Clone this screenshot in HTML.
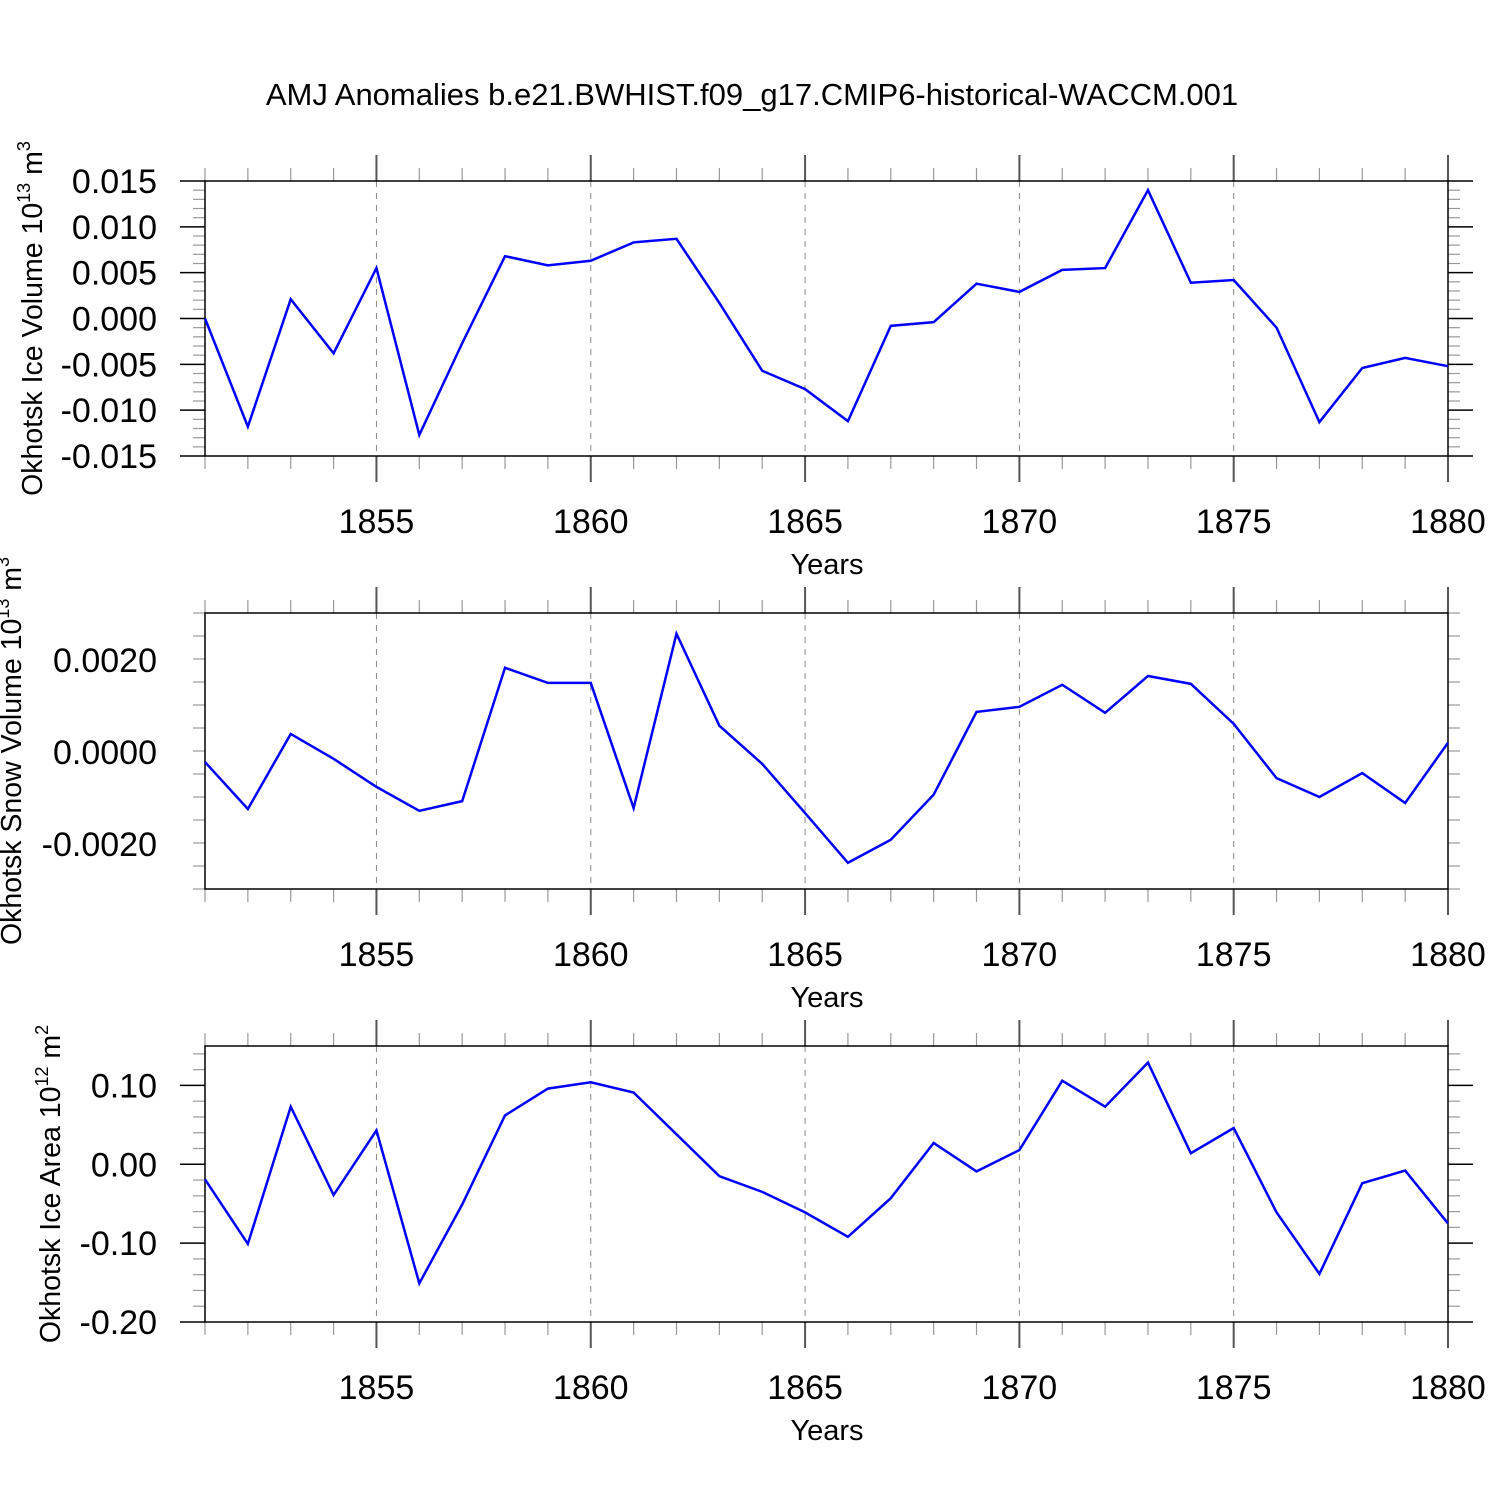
<!DOCTYPE html>
<html><head><meta charset="utf-8"><style>
body{margin:0;background:#fff}
svg text{font-family:"Liberation Sans",sans-serif;fill:#000}
</style></head><body>
<svg id="c" width="1500" height="1500" xmlns="http://www.w3.org/2000/svg">
<text x="752" y="105" font-size="31" text-anchor="middle">AMJ Anomalies b.e21.BWHIST.f09_g17.CMIP6-historical-WACCM.001</text>
</svg>
<script>
const years=[1851,1852,1853,1854,1855,1856,1857,1858,1859,1860,1861,1862,1863,1864,1865,1866,1867,1868,1869,1870,1871,1872,1873,1874,1875,1876,1877,1878,1879,1880];
const iceVolume=[0.0,-0.0118,0.0021,-0.0038,0.0055,-0.0127,-0.0027,0.0068,0.0058,0.0063,0.0083,0.0087,0.0017,-0.0057,-0.0077,-0.0112,-0.0008,-0.0004,0.0038,0.0029,0.0053,0.0055,0.0140,0.0039,0.0042,-0.0010,-0.0113,-0.0054,-0.0043,-0.0052];
const snowVolume=[-0.00022,-0.00124,0.00039,-0.00015,-0.00076,-0.00128,-0.00107,0.00183,0.0015,0.0015,-0.00122,0.00257,0.00057,-0.00026,-0.00133,-0.00241,-0.00191,-0.00093,0.00087,0.00098,0.00146,0.00085,0.00165,0.00148,0.00061,-0.00057,-0.00098,-0.00046,-0.00111,0.0002];
const iceArea=[-0.019,-0.101,0.073,-0.039,0.043,-0.151,-0.051,0.062,0.096,0.104,0.091,0.038,-0.015,-0.035,-0.061,-0.092,-0.043,0.027,-0.009,0.018,0.106,0.073,0.129,0.014,0.046,-0.061,-0.139,-0.024,-0.008,-0.075];
const xTicks=[1855,1860,1865,1870,1875,1880];
const yTicks1=["-0.015","-0.010","-0.005","0.000","0.005","0.010","0.015"];
const yTicks2=["-0.0020","0.0000","0.0020"];
const yTicks3=["-0.20","-0.10","0.00","0.10"];
const svg=document.getElementById('c');
const NS='http://www.w3.org/2000/svg';
const L=205,R=1448;
const xs=y=>L+(y-1851)*(R-L)/(1880-1851);
function mk(t,a){const e=document.createElementNS(NS,t);for(const k in a)e.setAttribute(k,a[k]);svg.appendChild(e);return e;}
function panel(p){
  const {top,bot,ymin,ymax,data,ticks,minor,title,sup,unit,prefix}=p;
  const ys=v=>bot-(v-ymin)*(bot-top)/(ymax-ymin);
  xTicks.forEach(t=>{if(t<1880){const g=mk('line',{x1:xs(t),x2:xs(t),y1:top,y2:bot,stroke:'#888','stroke-dasharray':'6,6','stroke-width':1});
  
  }});
  years.forEach(y=>{const maj=xTicks.includes(y);const len=maj?26:13;
    mk('line',{x1:xs(y),x2:xs(y),y1:top-len,y2:top,stroke:maj?'#555':'#999','stroke-width':maj?2:1.2});
    mk('line',{x1:xs(y),x2:xs(y),y1:bot,y2:bot+len,stroke:maj?'#555':'#999','stroke-width':maj?2:1.2});});
  const vals=ticks.map(Number);
  const step=vals[1]-vals[0];
  for(let v=ymin;v<=ymax+1e-9;v+=step/(minor+1)){
    const isMaj=vals.some(t=>Math.abs(t-v)<step*1e-3);const len=isMaj?25:12;const y=ys(v);
    mk('line',{x1:L-len,x2:L,y1:y,y2:y,stroke:isMaj?'#000':'#999','stroke-width':isMaj?1.5:1.2});
    mk('line',{x1:R,x2:R+len,y1:y,y2:y,stroke:isMaj?'#000':'#999','stroke-width':isMaj?1.5:1.2});
  }
  ticks.forEach(t=>{const e=mk('text',{x:157,y:ys(+t)+12,'font-size':34,'text-anchor':'end'});e.textContent=t;
    
    });
  xTicks.forEach(t=>{const e=mk('text',{x:xs(t),y:bot+77,'font-size':34,'text-anchor':'middle'});e.textContent=t;
    
    });
  const xl=mk('text',{x:827,y:bot+118,'font-size':29,'text-anchor':'middle'});xl.textContent='Years';
  
  
  const fr=mk('rect',{x:L,y:top,width:R-L,height:bot-top,fill:'none',stroke:'#000','stroke-width':1.5});
  
  
  const pl=mk('polyline',{points:data.map((v,i)=>xs(years[i])+','+ys(v)).join(' '),fill:'none',stroke:'#0000ff','stroke-width':2.5});
  
  
  const cy=(top+bot)/2;
  const yt=mk('text',{x:0,y:0,'font-size':28.5,'text-anchor':'middle',transform:`translate(${p.tx},${cy}) rotate(-90)`});
  yt.innerHTML=title+' 10<tspan dy="-12" font-size="18">'+sup+'</tspan><tspan dy="12"> '+unit+'</tspan><tspan dy="-12" font-size="18">'+p.usup+'</tspan>';
  
  
}
panel({top:181,bot:456,ymin:-0.015,ymax:0.015,data:iceVolume,ticks:yTicks1,minor:4,title:'Okhotsk Ice Volume',sup:'13',unit:'m',usup:'3',prefix:'ice-volume',tx:42});
panel({top:613,bot:889,ymin:-0.00298,ymax:0.00302,data:snowVolume,ticks:yTicks2,minor:3,title:'Okhotsk Snow Volume',sup:'13',unit:'m',usup:'3',prefix:'snow-volume',tx:21});
panel({top:1046,bot:1322,ymin:-0.2,ymax:0.15,data:iceArea,ticks:yTicks3,minor:4,title:'Okhotsk Ice Area',sup:'12',unit:'m',usup:'2',prefix:'ice-area',tx:60});
</script>
</body></html>
